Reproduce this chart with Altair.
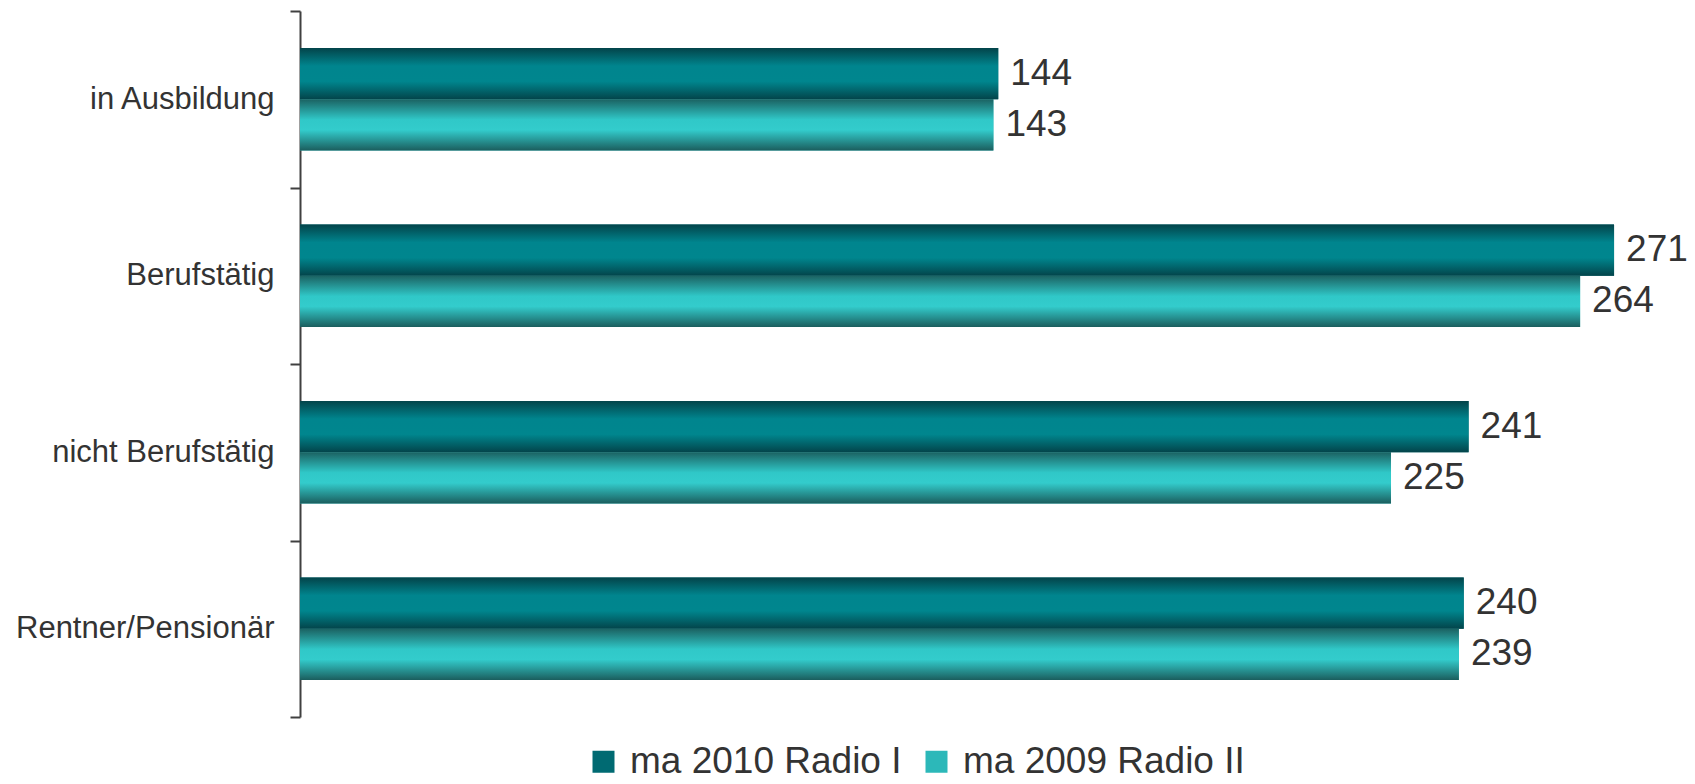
import altair as alt
import pandas as pd

categories = ["in Ausbildung", "Berufstätig", "nicht Berufstätig", "Rentner/Pensionär"]
series_names = ["ma 2010 Radio I", "ma 2009 Radio II"]
radio_2010 = [144, 271, 241, 240]
radio_2009 = [143, 264, 225, 239]

rows = []
for c, v in zip(categories, radio_2010):
    rows.append({"category": c, "series": series_names[0], "value": v})
for c, v in zip(categories, radio_2009):
    rows.append({"category": c, "series": series_names[1], "value": v})
df = pd.DataFrame(rows)

grad_dark = {
    "gradient": "linear", "x1": 0, "y1": 0, "x2": 0, "y2": 1,
    "stops": [
        {"offset": 0.0, "color": "#03444a"},
        {"offset": 0.35, "color": "#00858e"},
        {"offset": 0.65, "color": "#00868e"},
        {"offset": 1.0, "color": "#03444a"},
    ],
}
grad_light = {
    "gradient": "linear", "x1": 0, "y1": 0, "x2": 0, "y2": 1,
    "stops": [
        {"offset": 0.0, "color": "#1b6262"},
        {"offset": 0.4, "color": "#30c8c8"},
        {"offset": 0.6, "color": "#33cccc"},
        {"offset": 1.0, "color": "#1b5e5e"},
    ],
}

x_scale = alt.Scale(domain=[0, 284.6], nice=False, zero=True)
y_enc = alt.Y(
    "category:N",
    sort=categories,
    scale=alt.Scale(domain=categories, paddingInner=0, paddingOuter=0),
    axis=alt.Axis(
        title=None,
        tickBand="extent",
        tickSize=10,
        tickWidth=2,
        tickColor="#404040",
        domainColor="#404040",
        domainWidth=2,
        labelFont="Liberation Sans",
        labelFontSize=31,
        labelColor="#333333",
        labelPadding=16,
        labelLimit=500,
    ),
)
yoff = alt.YOffset("series:N", scale=alt.Scale(domain=series_names, paddingInner=0, paddingOuter=0.724))
x_enc = alt.X("value:Q", scale=x_scale, axis=None)

base = alt.Chart(df)

legend_bars = base.mark_bar().encode(
    x=x_enc,
    y=y_enc,
    yOffset=yoff,
    color=alt.Color(
        "series:N",
        scale=alt.Scale(domain=series_names, range=["#006a72", "#2cb8b9"]),
        legend=alt.Legend(
            title=None,
            orient="none",
            direction="horizontal",
            legendX=285,
            legendY=732,
            symbolType="square",
            symbolSize=484,
            symbolStrokeWidth=0,
            labelFont="Liberation Sans",
            labelFontSize=37,
            labelColor="#333333",
            labelOffset=8,
            columnPadding=16,
            labelLimit=400,
        ),
    ),
)

bars_dark = base.transform_filter(alt.datum.series == series_names[0]).mark_bar(color=grad_dark).encode(
    x=x_enc, y=y_enc, yOffset=yoff
)
bars_light = base.transform_filter(alt.datum.series == series_names[1]).mark_bar(color=grad_light).encode(
    x=x_enc, y=y_enc, yOffset=yoff
)

labels = base.mark_text(
    align="left", baseline="middle", dx=12, font="Liberation Sans", fontSize=37, color="#333333"
).encode(x=x_enc, y=y_enc, yOffset=yoff, text=alt.Text("value:Q"))

chart = (
    alt.layer(legend_bars, bars_dark, bars_light, labels)
    .properties(
        width=1380,
        height=706,
        autosize=alt.AutoSizeParams(type="none"),
        padding={"left": 292, "top": 3, "right": 7, "bottom": 67},
    )
    .configure(background="white")
    .configure_view(strokeWidth=0, stroke=None)
)

chart.save("out.html", embed_options={"renderer": "svg", "actions": False})
